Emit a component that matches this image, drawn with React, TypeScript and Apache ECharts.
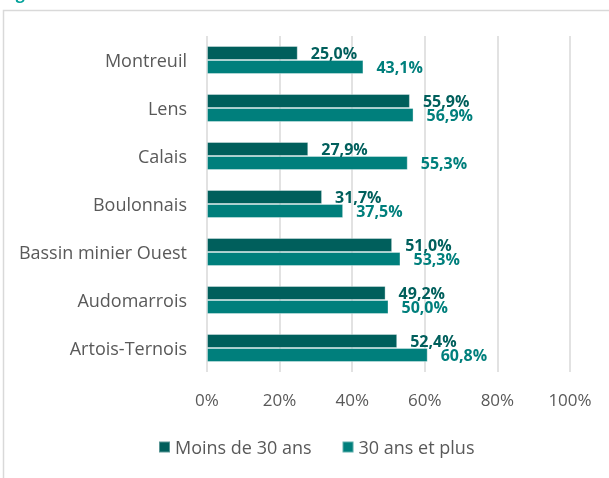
import React, { useEffect, useRef } from "react";
import * as echarts from "echarts";

const categories = ["Montreuil", "Lens", "Calais", "Boulonnais", "Bassin minier Ouest", "Audomarrois", "Artois-Ternois"];
const moins30 = [25.0, 55.9, 27.9, 31.7, 51.0, 49.2, 52.4];
const plus30 = [43.1, 56.9, 55.3, 37.5, 53.3, 50.0, 60.8];
const seriesNames = ["Moins de 30 ans", "30 ans et plus"];
const xTicks = { min: 0, max: 100, interval: 20 };

const DARK = "#005F5C";
const LIGHT = "#007F7C";
const FONT = "'Open Sans', sans-serif";

export default function App() {
  const ref = useRef<HTMLDivElement>(null);
  useEffect(() => {
    if (!ref.current) return;
    const chart = echarts.init(ref.current, null, { renderer: "svg" });
    const fmt = (v: number) => v.toFixed(1).replace(".", ",") + "%";
    const mkSeries = (name: string, data: number[], color: string, labelColor: string) => ({
      name,
      type: "bar",
      data,
      barWidth: 14,
      barGap: "0%",
      itemStyle: { color, borderColor: "rgba(255,255,255,0.35)", borderWidth: 1 },
      label: {
        show: true,
        position: "right",
        distance: 13,
        color: labelColor,
        fontWeight: "bold",
        fontSize: 16,
        fontFamily: FONT,
        formatter: (p: any) => fmt(p.value),
      },
    });
    chart.setOption({
      animation: false,
      textStyle: { fontFamily: FONT },
      graphic: [
        {
          type: "rect",
          shape: { x: 3.5, y: 10.5, width: 700, height: 600 },
          style: { fill: "none", stroke: "#d9d9d9", lineWidth: 1.5 },
          silent: true,
        },
        {
          type: "text",
          x: 2,
          y: 1,
          style: { text: "Figure 4 :", fill: "#00A19A", fontSize: 16, fontWeight: "bold", fontFamily: FONT, verticalAlign: "bottom" },
        },
      ],
      legend: {
        data: seriesNames,
        left: 153,
        top: 433,
        icon: "rect",
        itemWidth: 11,
        itemHeight: 11,
        itemGap: 30,
        textStyle: { color: "#595959", fontSize: 18, fontFamily: FONT },
      },
      grid: { left: 207, right: 39, top: 36, bottom: 106, containLabel: false },
      xAxis: {
        type: "value",
        min: xTicks.min,
        max: xTicks.max,
        interval: xTicks.interval,
        axisLabel: { formatter: "{value}%", color: "#595959", fontSize: 17, margin: 19, fontFamily: FONT },
        axisLine: { show: false },
        axisTick: { show: false },
        splitLine: { lineStyle: { color: "#d9d9d9", width: 1.5 } },
      },
      yAxis: {
        type: "category",
        data: categories,
        inverse: true,
        axisLabel: { color: "#595959", fontSize: 18, margin: 20, fontFamily: FONT },
        axisLine: { show: false },
        axisTick: { show: false },
      },
      series: [
        mkSeries(seriesNames[0], moins30, DARK, DARK),
        mkSeries(seriesNames[1], plus30, LIGHT, LIGHT),
      ],
    });
    return () => chart.dispose();
  }, []);
  return <div ref={ref} style={{ position: "fixed", left: 0, top: 0, width: 609, height: 478 }} />;
}
